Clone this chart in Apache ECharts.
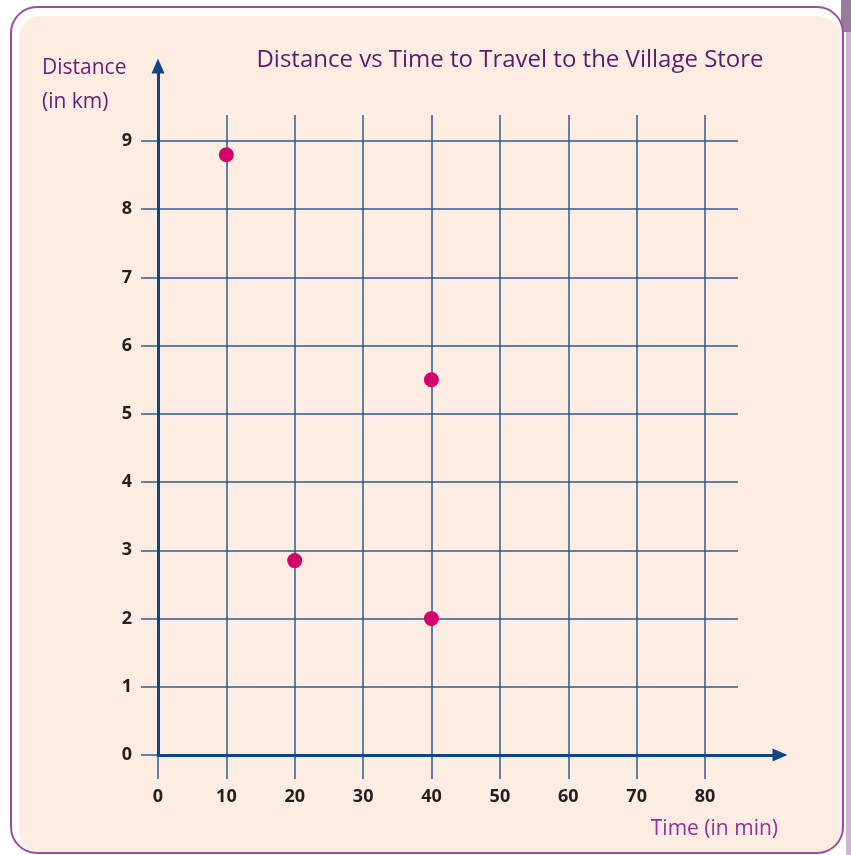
<!DOCTYPE html>
<html>
<head>
<meta charset="utf-8">
<script src="https://cdn.jsdelivr.net/npm/echarts@6/dist/echarts.min.js"></script>
<style>html,body{margin:0;padding:0;background:#fff;}#c{width:851px;height:855px;}</style>
</head>
<body>
<div id="c"></div>
<script>
// ---- data ----
var timeValues = [10, 20, 40, 40];          // minutes
var distanceValues = [8.8, 2.85, 5.5, 2];   // km
var xTicks = [0, 10, 20, 30, 40, 50, 60, 70, 80];
var yTicks = [0, 1, 2, 3, 4, 5, 6, 7, 8, 9];
var chartTitle = 'Distance vs Time to Travel to the Village Store';
var yName = ['Distance', '(in km)'];
var xName = 'Time (in min)';

var points = timeValues.map(function (t, i) { return [t, distanceValues[i]]; });

var axisBlue = '#0f4783';
var gridBlue = '#2d5b8d';
var labelFont = { color: '#231f20', fontSize: 18, fontWeight: 'bold', fontFamily: 'Open Sans' };
var hand = '"Open Sans", sans-serif';

var chart = echarts.init(document.getElementById('c'), null, { renderer: 'canvas' });
chart.setOption({
  animation: false,
  backgroundColor: '#ffffff',
  graphic: [
    { type: 'rect', z: -10, shape: { x: 841, y: 0, width: 10, height: 32 }, style: { fill: '#9b7aa0' } },
    { type: 'rect', z: -10, shape: { x: 846, y: 32, width: 5, height: 823 }, style: { fill: '#cdb5d0' } },
    { type: 'rect', z: -9, shape: { x: 11, y: 7, width: 832, height: 846, r: 26 }, style: { fill: '#ffffff' } },
    { type: 'rect', z: -8, shape: { x: 19, y: 16, width: 824, height: 837, r: [22, 26, 26, 22] }, style: { fill: '#fdece2' } },
    { type: 'rect', z: -7, shape: { x: 11, y: 7, width: 832, height: 846, r: 26 }, style: { fill: null, stroke: '#9d4aa6', lineWidth: 2 } },
    { type: 'text', z: 10, style: { text: chartTitle, x: 510, y: 60, align: 'center', verticalAlign: 'middle', font: '24px ' + hand, fill: '#5b1b6c' } },
    { type: 'text', z: 10, style: { text: yName[0], x: 42, y: 68, align: 'left', verticalAlign: 'middle', font: '21px ' + hand, fill: '#631f74' } },
    { type: 'text', z: 10, style: { text: yName[1], x: 42, y: 102, align: 'left', verticalAlign: 'middle', font: '21px ' + hand, fill: '#631f74' } },
    { type: 'text', z: 10, style: { text: xName, x: 778, y: 829, align: 'right', verticalAlign: 'middle', font: '21px ' + hand, fill: '#93309b' } }
  ],
  grid: [
    { left: 158, right: 71, top: 66, bottom: 100 },   // main: points + arrow axes
    { left: 158, right: 146, top: 115, bottom: 76 },  // vertical grid lines + x labels
    { left: 141, right: 113, top: 141, bottom: 100 }  // horizontal grid lines + y labels
  ],
  xAxis: [
    { gridIndex: 0, type: 'value', min: 0, max: 91, interval: 10,
      axisLine: { show: true, onZero: false, symbol: ['none', 'triangle'], symbolSize: [13, 15], lineStyle: { color: axisBlue, width: 3 } },
      axisTick: { show: false }, axisLabel: { show: false }, splitLine: { show: false }, z: 5 },
    { gridIndex: 1, type: 'value', min: xTicks[0], max: xTicks[xTicks.length - 1], interval: 10,
      axisLine: { show: false }, axisTick: { show: false },
      axisLabel: Object.assign({ margin: 9 }, labelFont),
      splitLine: { show: true, lineStyle: { color: gridBlue, width: 1.5 } } },
    { gridIndex: 2, type: 'value', show: false, min: 0, max: 1 }
  ],
  yAxis: [
    { gridIndex: 0, type: 'value', min: 0, max: 10.1, interval: 1,
      axisLine: { show: true, onZero: false, symbol: ['none', 'triangle'], symbolSize: [13, 15], lineStyle: { color: axisBlue, width: 3 } },
      axisTick: { show: false }, axisLabel: { show: false }, splitLine: { show: false }, z: 5 },
    { gridIndex: 1, type: 'value', show: false, min: 0, max: 1 },
    { gridIndex: 2, type: 'value', min: yTicks[0], max: yTicks[yTicks.length - 1], interval: 1,
      axisLine: { show: false }, axisTick: { show: false },
      axisLabel: Object.assign({ margin: 9 }, labelFont),
      splitLine: { show: true, lineStyle: { color: gridBlue, width: 1.5 } } }
  ],
  series: [
    { type: 'scatter', xAxisIndex: 0, yAxisIndex: 0, data: points, symbol: 'circle', symbolSize: 15,
      itemStyle: { color: '#d5006c', opacity: 1 }, z: 10 }
  ]
});
</script>
</body>
</html>
